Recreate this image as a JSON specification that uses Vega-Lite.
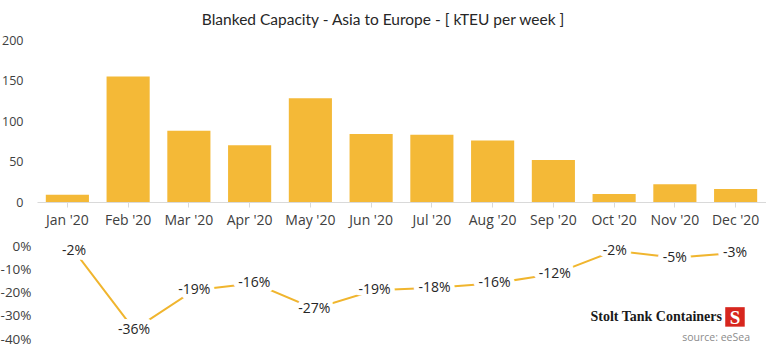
{
  "$schema": "https://vega.github.io/schema/vega-lite/v6.json",
  "background": "white",
  "padding": {"left": 0, "top": 12, "right": 0, "bottom": 0},
  "title": {
    "text": "Blanked Capacity - Asia to Europe - [ kTEU per week ]",
    "font": "Lato",
    "fontSize": 15.5,
    "fontWeight": "normal",
    "color": "#262626",
    "anchor": "middle",
    "offset": 6
  },
  "datasets": {
    "months": [
      {"month": "Jan '20", "capacity": 9, "change": -0.02},
      {"month": "Feb '20", "capacity": 155, "change": -0.36},
      {"month": "Mar '20", "capacity": 88, "change": -0.19},
      {"month": "Apr '20", "capacity": 70, "change": -0.16},
      {"month": "May '20", "capacity": 128, "change": -0.27},
      {"month": "Jun '20", "capacity": 84, "change": -0.19},
      {"month": "Jul '20", "capacity": 83, "change": -0.18},
      {"month": "Aug '20", "capacity": 76, "change": -0.16},
      {"month": "Sep '20", "capacity": 52, "change": -0.12},
      {"month": "Oct '20", "capacity": 10, "change": -0.02},
      {"month": "Nov '20", "capacity": 22, "change": -0.05},
      {"month": "Dec '20", "capacity": 16, "change": -0.03}
    ]
  },
  "bounds": "flush",
  "spacing": 44,
  "vconcat": [
    {
      "width": 729,
      "height": 162,
      "data": {"name": "months"},
      "mark": {"type": "bar", "color": "#F4B937"},
      "encoding": {
        "x": {
          "field": "month",
          "type": "ordinal",
          "sort": null,
          "scale": {"paddingInner": 0.29, "paddingOuter": 0.145},
          "axis": {
            "title": null,
            "labelAngle": 0,
            "domainColor": "#d9d9d9",
            "tickColor": "#d9d9d9",
            "tickSize": 5,
            "labelFontSize": 14,
            "labelPadding": 6,
            "labelColor": "#404040",
            "labelFont": "Open Sans"
          }
        },
        "y": {
          "field": "capacity",
          "type": "quantitative",
          "scale": {"domain": [0, 200]},
          "axis": {
            "title": null,
            "values": [0, 50, 100, 150, 200],
            "grid": false,
            "domain": false,
            "ticks": false,
            "labelPadding": 14,
            "labelFontSize": 12.5,
            "labelColor": "#404040",
            "labelFont": "Open Sans"
          }
        }
      }
    },
    {
      "width": 729,
      "height": 93,
      "data": {"name": "months"},
      "encoding": {
        "x": {
          "field": "month",
          "type": "ordinal",
          "sort": null,
          "scale": {"type": "point", "padding": 0.566, "align": 0.544},
          "axis": null
        },
        "y": {
          "field": "change",
          "type": "quantitative",
          "scale": {"domain": [-0.4, 0]},
          "axis": {
            "title": null,
            "format": ".0%",
            "values": [0, -0.1, -0.2, -0.3, -0.4],
            "grid": false,
            "domain": false,
            "ticks": false,
            "labelPadding": 6,
            "labelFontSize": 13.5,
            "labelColor": "#404040",
            "labelFont": "Open Sans"
          }
        }
      },
      "layer": [
        {"mark": {"type": "line", "color": "#F0B52E", "strokeWidth": 2}},
        {
          "mark": {"type": "text", "fill": "white", "stroke": "white", "strokeWidth": 10, "strokeJoin": "round", "fontSize": 14, "font": "Open Sans", "baseline": "middle"},
          "encoding": {"text": {"field": "change", "type": "quantitative", "format": ".0%"}}
        },
        {
          "mark": {"type": "text", "color": "#262626", "fontSize": 14, "font": "Open Sans", "baseline": "middle"},
          "encoding": {"text": {"field": "change", "type": "quantitative", "format": ".0%"}}
        },
        {
          "transform": [{"filter": "datum.month === \"Dec '20\""}],
          "mark": {"type": "text", "text": "Stolt Tank Containers", "align": "right", "baseline": "middle", "dx": -13, "font": "Liberation Serif", "fontWeight": "bold", "fontSize": 14, "color": "#1a1a1a"},
          "encoding": {
            "y": {"datum": -0.305}
          }
        },
        {
          "transform": [{"filter": "datum.month === \"Dec '20\""}],
          "mark": {"type": "square", "filled": true, "size": 380, "color": "#D7261E", "opacity": 1},
          "encoding": {
            "y": {"datum": -0.305}
          }
        },
        {
          "transform": [{"filter": "datum.month === \"Dec '20\""}],
          "mark": {"type": "text", "text": "S", "align": "center", "baseline": "middle", "font": "Liberation Serif", "fontWeight": "bold", "fontSize": 19, "color": "white", "dy": 1},
          "encoding": {
            "y": {"datum": -0.305}
          }
        },
        {
          "transform": [{"filter": "datum.month === \"Dec '20\""}],
          "mark": {"type": "text", "text": "source: eeSea", "align": "right", "baseline": "middle", "dx": 15, "font": "Open Sans", "fontSize": 10.5, "color": "#8c8c8c"},
          "encoding": {
            "y": {"datum": -0.395}
          }
        }
      ]
    }
  ],
  "config": {
    "view": {"stroke": null},
    "font": "Open Sans",
    "locale": {
      "number": {"decimal": ".", "thousands": ",", "grouping": [3], "currency": ["$", ""], "minus": "-"}
    }
  }
}
